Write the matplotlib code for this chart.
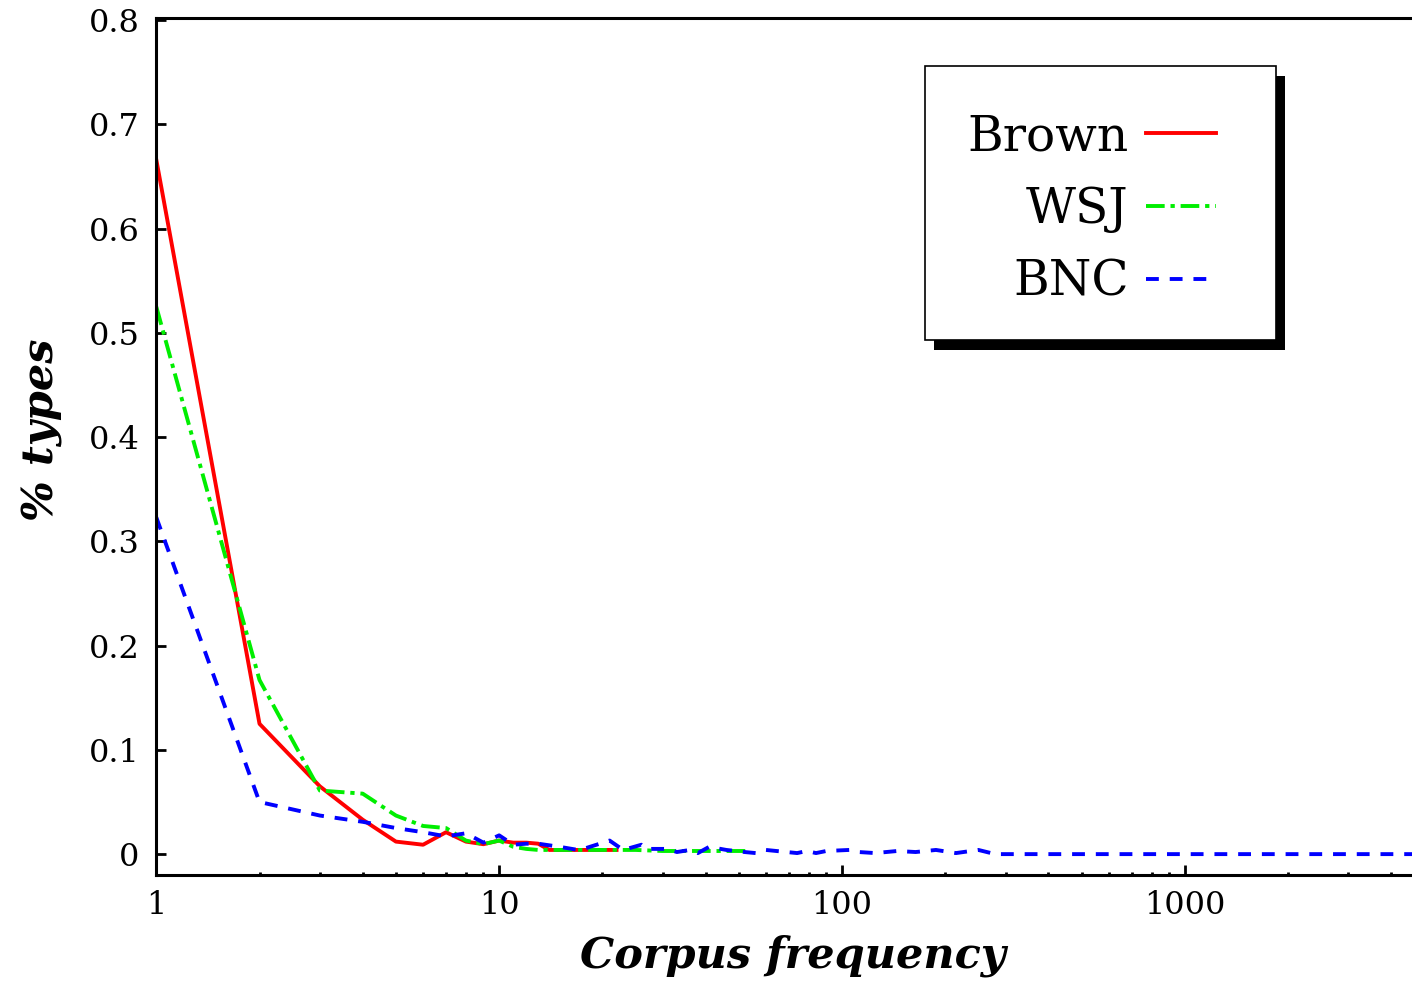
import matplotlib
matplotlib.use("Agg")
import matplotlib.pyplot as plt
import matplotlib.patheffects as pe
from matplotlib.patches import Rectangle

# values
brown_x = [1, 2, 3, 4, 5, 6, 7, 8, 9, 10, 11, 12, 13, 14, 16, 18, 20, 22]
brown_y = [0.666, 0.125, 0.065, 0.033, 0.012, 0.009, 0.021, 0.012, 0.0095, 0.013,
           0.011, 0.011, 0.010, 0.004, 0.004, 0.004, 0.004, 0.004]

wsj_x = [1, 2, 3, 4, 5, 6, 7, 8, 9, 10, 11, 12, 13, 15, 20, 25, 30, 40, 54]
wsj_y = [0.525, 0.167, 0.061, 0.058, 0.037, 0.027, 0.025, 0.013, 0.0096, 0.013,
         0.007, 0.005, 0.004, 0.004, 0.004, 0.004, 0.003, 0.003, 0.003]

bnc_x = [1, 2, 3, 4, 5, 6, 7, 8, 9, 10, 11, 12, 13, 15, 17, 18, 21, 23, 26, 27,
         31, 33, 36, 38, 41, 46, 52, 56, 60, 69, 74, 79, 84, 90, 105, 112, 125,
         145, 164, 188, 215, 250, 280, 4600]
bnc_y = [0.323, 0.050, 0.037, 0.031, 0.025, 0.021, 0.017, 0.020, 0.011, 0.018,
         0.009, 0.010, 0.010, 0.007, 0.004, 0.006, 0.013, 0.004, 0.009, 0.005,
         0.005, 0.002, 0.004, 0.001, 0.007, 0.004, 0.002, 0.001, 0.004, 0.002,
         0.001, 0.003, 0.001, 0.003, 0.004, 0.002, 0.001, 0.003, 0.002, 0.004,
         0.001, 0.004, 0.0, 0.0]

yticks = [0, 0.1, 0.2, 0.3, 0.4, 0.5, 0.6, 0.7, 0.8]
ytick_labels = ["0", "0.1", "0.2", "0.3", "0.4", "0.5", "0.6", "0.7", "0.8"]
xticks = [1, 10, 100, 1000]
xtick_labels = ["1", "10", "100", "1000"]

plt.rcParams["font.family"] = ["DejaVu Serif"]

fig = plt.figure(figsize=(14.12, 9.83), dpi=100)
ax = fig.add_axes([0.1107, 0.1099, 0.8893, 0.8718])

lw = 2.8
ax.plot(brown_x, brown_y, color="#ff0000", lw=lw, label="Brown")
ax.plot(wsj_x, wsj_y, color="#00ee00", lw=lw, dashes=(4.8, 1.5, 1.1, 1.5), label="WSJ")
ax.plot(bnc_x, bnc_y, color="#0000ff", lw=lw, dashes=(3.3, 2.8), label="BNC")

ax.set_xscale("log")
ax.set_xlim(1, 4600)
ax.set_ylim(-0.02, 0.802)

ax.set_yticks(yticks)
ax.set_yticklabels(ytick_labels)
ax.set_xticks(xticks)
ax.set_xticklabels(xtick_labels)

ax.tick_params(axis="both", which="major", direction="in", length=7, width=2,
               labelsize=23, top=False, right=False)
ax.tick_params(axis="y", pad=12)
ax.tick_params(axis="x", pad=11)
ax.tick_params(axis="x", which="minor", direction="in", length=2.5, width=2,
               top=False)

for side in ["left", "bottom", "top"]:
    ax.spines[side].set_linewidth(2.2)
ax.spines["right"].set_visible(False)

ax.set_xlabel("Corpus frequency", fontsize=31, fontweight="bold", style="italic")
ax.set_ylabel("% types", fontsize=31, fontweight="bold", style="italic")
ax.xaxis.set_label_coords(0.507, -0.069)
ax.yaxis.set_label_coords(-0.074, 0.519)

# legend box with a hard black shadow
box = Rectangle((0.612, 0.624), 0.2797, 0.3197, transform=ax.transAxes,
                facecolor="white", edgecolor="black", lw=1.2, zorder=5)
box.set_path_effects([pe.SimplePatchShadow(offset=(6.5, -7), shadow_rgbFace="black",
                                           alpha=1.0), pe.Normal()])
ax.add_patch(box)

leg = ax.legend(loc="upper right", bbox_to_anchor=(0.844, 0.889), markerfirst=False,
                fontsize=35, frameon=False, borderpad=0, handlelength=1.45,
                handletextpad=0.35, labelspacing=0.53, borderaxespad=0)
leg.set_zorder(6)

fig.savefig("out.png", dpi=100)
